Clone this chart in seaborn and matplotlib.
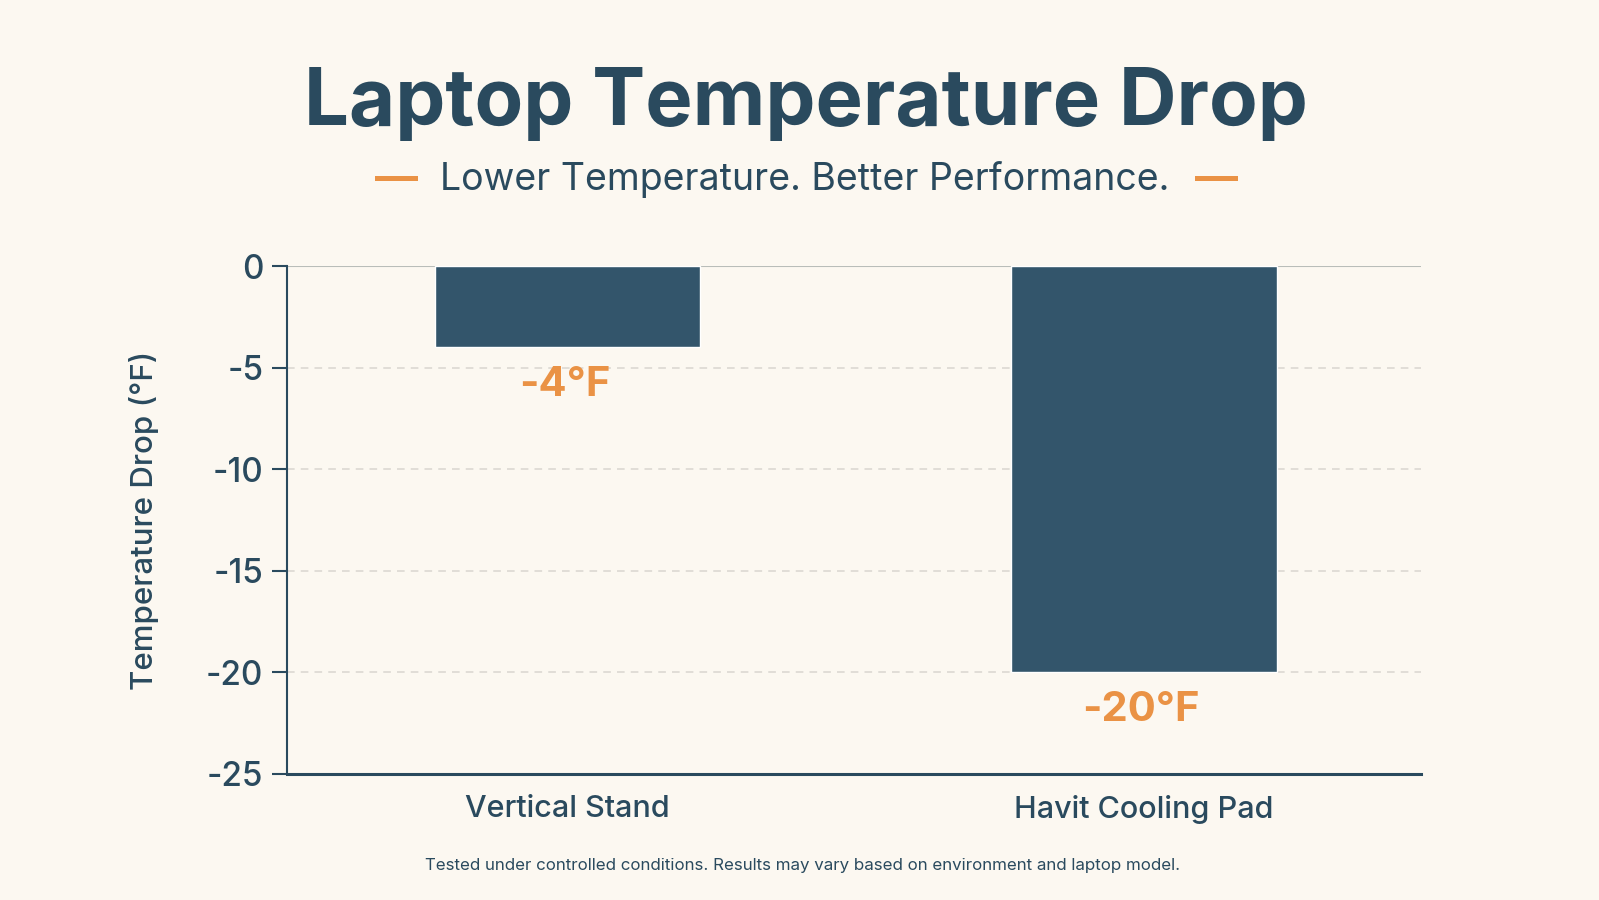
import seaborn as sns
import pandas as pd
import matplotlib.pyplot as plt

categories = ["Vertical Stand", "Havit Cooling Pad"]
temp_drop = [-4, -20]
value_labels = ["-4°F", "-20°F"]
y_ticks = [0, -5, -10, -15, -20, -25]

bg = "#FCF8F1"
navy = "#33556B"
text_dark = "#2A4A5E"
orange = "#EA9245"

sns.set_theme(style="white")
plt.rcParams["font.family"] = ["Inter", "DejaVu Sans"]

df = pd.DataFrame({"Device": categories, "Drop": temp_drop})

fig = plt.figure(figsize=(15.99, 9), dpi=100, facecolor=bg)
ax = fig.add_axes([0.1795, 0.14, 0.709, 0.5644])
ax.set_facecolor(bg)

sns.barplot(data=df, x="Device", y="Drop", color=navy, width=0.46,
            saturation=1, ax=ax, zorder=3)

ax.set_ylim(-25, 0)
ax.set_xlim(-0.487, 1.48)
ax.set_yticks(y_ticks)
ax.set_yticklabels([str(t) for t in y_ticks])

for t in y_ticks[1:-1]:
    ax.axhline(t, color="#D9D6D0", lw=1.1, ls=(0, (5, 4)), zorder=1)
ax.axhline(0, color="#B9BDB9", lw=1.5, zorder=2)

for i, (v, lab) in enumerate(zip(temp_drop, value_labels)):
    ax.annotate(lab, (i, v), xytext=(-2, -27), textcoords="offset points",
                ha="center", va="center", fontsize=30, fontweight="bold",
                color=orange, zorder=4)

for side in ["top", "right"]:
    ax.spines[side].set_visible(False)
ax.spines["left"].set_color(text_dark)
ax.spines["left"].set_linewidth(1.5)
ax.spines["bottom"].set_color(text_dark)
ax.spines["bottom"].set_linewidth(2.2)

ax.tick_params(axis="y", left=True, length=11, width=1.5, color=text_dark,
               labelsize=24, labelcolor=text_dark, pad=6)
ax.tick_params(axis="x", bottom=False, labelsize=22, labelcolor=text_dark, pad=9)
for lab in ax.get_yticklabels() + ax.get_xticklabels():
    lab.set_fontweight("medium")
ax.set_xlabel("")
ax.set_ylabel("Temperature Drop (°F)", fontsize=22.5, fontweight="medium",
              color=text_dark, labelpad=34)

fig.text(0.504, 0.884, "Laptop Temperature Drop", ha="center", va="center",
         fontsize=57.3, fontweight="bold", color=text_dark)
fig.text(0.503, 0.8, "Lower Temperature. Better Performance.", ha="center",
         va="center", fontsize=27, color=text_dark)
fig.text(0.248, 0.801, "—", ha="center", va="center", fontsize=31,
         fontweight="bold", color=orange)
fig.text(0.761, 0.801, "—", ha="center", va="center", fontsize=31,
         fontweight="bold", color=orange)
fig.text(0.502, 0.038, "Tested under controlled conditions. Results may vary based on "
         "environment and laptop model.", ha="center", va="center",
         fontsize=12.2, color=text_dark)

fig.savefig("out.png", dpi=100, facecolor=bg)
